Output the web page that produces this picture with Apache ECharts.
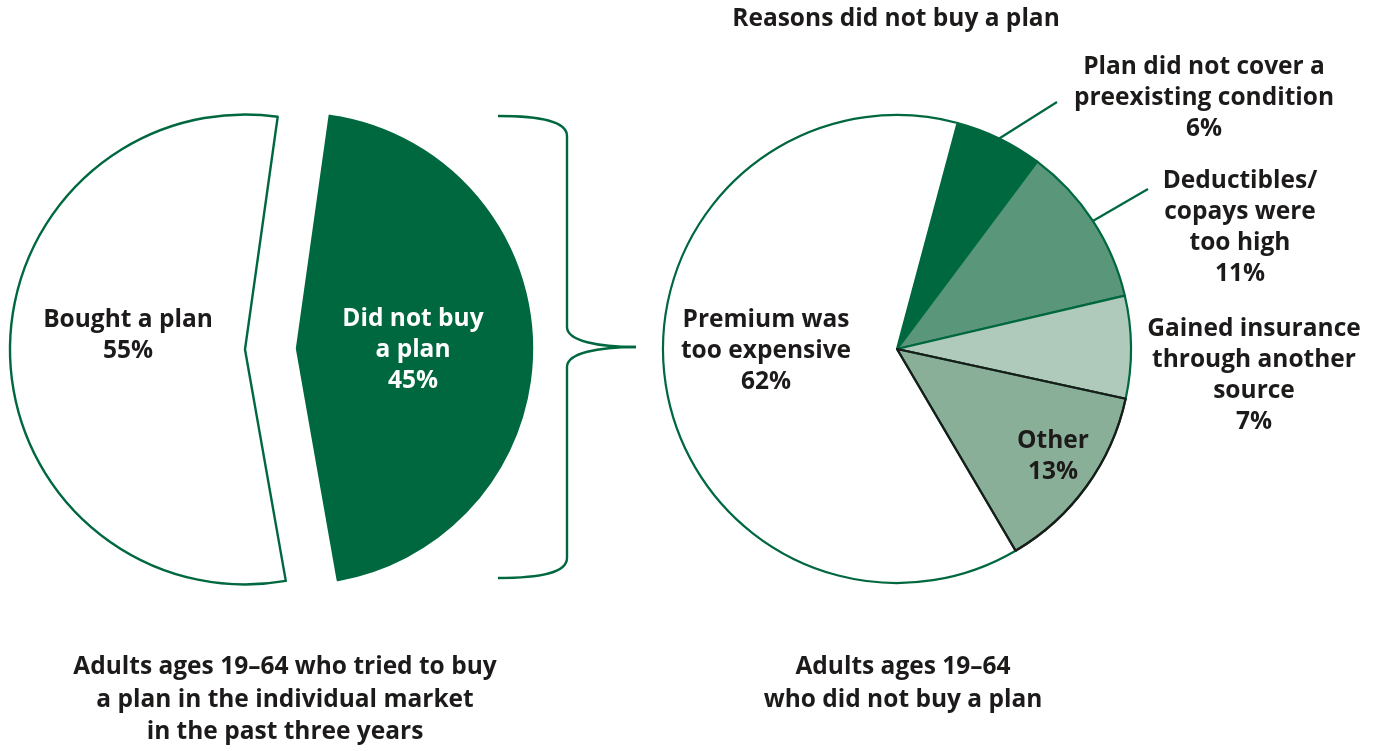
<!DOCTYPE html>
<html>
<head>
<meta charset="utf-8">
<title>Individual market plan purchases</title>
<script src="https://cdn.jsdelivr.net/npm/echarts@6/dist/echarts.min.js"></script>
<style>
  html, body { margin: 0; padding: 0; background: #ffffff; }
  #chart { width: 1381px; height: 751px; }
</style>
</head>
<body>
<div id="chart"></div>
<script>
// Share of adults who tried to buy an individual-market plan
const buyCategories = ['Did not buy\na plan', 'Bought a plan'];
const buyValues = [45, 55];

// Reasons given by adults who did not buy a plan
const reasonCategories = [
  'Plan did not cover a\npreexisting condition',
  'Deductibles/\ncopays were\ntoo high',
  'Gained insurance\nthrough another\nsource',
  'Other',
  'Premium was\ntoo expensive'
];
const reasonValues = [6, 11, 7, 13, 62];

const titleText = 'Reasons did not buy a plan';
const leftCaption = 'Adults ages 19\u201364 who tried to buy\na plan in the individual market\nin the past three years';
const rightCaption = 'Adults ages 19\u201364\nwho did not buy a plan';

const GREEN = '#00683f';
const INK = '#1d1a1a';
const FONT = '"Open Sans", Lato, sans-serif';
const FS = 24.5;
const LH = 31;

const buyFills = [GREEN, '#ffffff'];
const buyTextColors = ['#ffffff', INK];
const reasonFills = [GREEN, '#5a9679', '#afc9ba', '#8aaf99', '#ffffff'];

// left pie geometry: both slices pulled apart along their bisectors
const BUY_CENTER = [271, 349];
const BUY_RADIUS = 235;
const BUY_START = 82;
const BUY_EXPLODE = 26;

// label anchor spots (block centres) and optional leader-line ends relative to them
const buyLabelSpots = [
  { x: 413, y: 350 },
  { x: 128, y: 336 }
];
const reasonLabelSpots = [
  { x: 1204, y: 98, lineTo: [-147, 4] },
  { x: 1240, y: 228, lineTo: [-92, -39] },
  { x: 1254, y: 376 },
  { x: 1053, y: 457 },
  { x: 766, y: 351 }
];

const chart = echarts.init(document.getElementById('chart'), null, { renderer: 'canvas' });

const textBase = {
  fontFamily: FONT,
  fontWeight: 'bold',
  fontSize: FS,
  lineHeight: LH,
  color: INK
};

// brace linking the "did not buy" slice to the breakdown pie
const braceStyle = { stroke: GREEN, lineWidth: 2.4, fill: 'none' };
const brace = [
  { type: 'bezierCurve', shape: { x1: 498, y1: 116, cpx1: 540, cpy1: 116, cpx2: 567, cpy2: 121, x2: 567, y2: 136 } },
  { type: 'line', shape: { x1: 567, y1: 136, x2: 567, y2: 327 } },
  { type: 'bezierCurve', shape: { x1: 567, y1: 327, cpx1: 567, cpy1: 341, cpx2: 598, cpy2: 347, x2: 636, y2: 347 } },
  { type: 'bezierCurve', shape: { x1: 636, y1: 347, cpx1: 598, cpy1: 347, cpx2: 567, cpy2: 353, x2: 567, y2: 367 } },
  { type: 'line', shape: { x1: 567, y1: 367, x2: 567, y2: 558 } },
  { type: 'bezierCurve', shape: { x1: 567, y1: 558, cpx1: 567, cpy1: 573, cpx2: 540, cpy2: 578, x2: 498, y2: 578 } }
].map(function (el) {
  el.silent = true;
  el.style = Object.assign({}, braceStyle);
  return el;
});

// one pie series per slice of the left chart, each shifted outwards along its bisector
const buyTotal = buyValues.reduce(function (a, b) { return a + b; }, 0);
let buyCum = 0;
const buySeries = buyValues.map(function (v, k) {
  const mid = (BUY_START - (buyCum + v / 2) / buyTotal * 360) * Math.PI / 180;
  buyCum += v;
  const center = [
    BUY_CENTER[0] + BUY_EXPLODE * Math.cos(mid),
    BUY_CENTER[1] - BUY_EXPLODE * Math.sin(mid)
  ];
  return {
    type: 'pie',
    center: center,
    radius: BUY_RADIUS,
    startAngle: BUY_START,
    clockwise: true,
    avoidLabelOverlap: false,
    silent: true,
    emphasis: { disabled: true },
    labelLine: { show: false },
    labelLayout: function (p) {
      const s = buyLabelSpots[p.dataIndex];
      return { x: s.x, y: s.y, align: 'center', verticalAlign: 'middle' };
    },
    data: buyCategories.map(function (name, i) {
      const own = i === k;
      return {
        name: name,
        value: buyValues[i],
        itemStyle: own
          ? { color: buyFills[i], borderColor: GREEN, borderWidth: 2.4 }
          : { color: 'rgba(0,0,0,0)', borderWidth: 0 },
        label: own
          ? Object.assign({ show: true, position: 'inside', formatter: '{b}\n{c}%', align: 'center' },
              textBase, { color: buyTextColors[i] })
          : { show: false }
      };
    })
  };
});

const option = {
  animation: false,
  backgroundColor: '#ffffff',
  title: [
    {
      text: titleText,
      left: 891, top: -1, textAlign: 'center',
      textStyle: Object.assign({}, textBase)
    },
    {
      text: leftCaption,
      left: 280, top: 646, textAlign: 'center',
      textStyle: Object.assign({}, textBase, { lineHeight: 32.5 })
    },
    {
      text: rightCaption,
      left: 898, top: 646, textAlign: 'center',
      textStyle: Object.assign({}, textBase, { lineHeight: 32.5 })
    }
  ],
  graphic: brace,
  series: buySeries.concat([
    {
      type: 'pie',
      center: [897, 349],
      radius: 234,
      startAngle: 75,
      clockwise: true,
      avoidLabelOverlap: false,
      silent: true,
      emphasis: { disabled: true },
      itemStyle: { borderColor: GREEN, borderWidth: 2.2 },
      label: Object.assign({ show: true, position: 'outside', formatter: '{b}\n{c}%', align: 'center' }, textBase),
      labelLine: { show: true, length: 10, length2: 10, lineStyle: { color: GREEN, width: 2.2 } },
      labelLayout: function (p) {
        const s = reasonLabelSpots[p.dataIndex];
        const out = { x: s.x, y: s.y, align: 'center', verticalAlign: 'middle' };
        if (s.lineTo && p.labelLinePoints) {
          const start = p.labelLinePoints[0];
          const end = [s.x + s.lineTo[0], s.y + s.lineTo[1]];
          out.labelLinePoints = [start, end, end];
        }
        return out;
      },
      data: reasonCategories.map(function (name, i) {
        return {
          name: name,
          value: reasonValues[i],
          itemStyle: { color: reasonFills[i] },
          labelLine: { show: i < 2 }
        };
      })
    },
    {
      // dark outline around the "Other" slice, drawn above its neighbours
      type: 'pie',
      center: [897, 349],
      radius: 234,
      startAngle: 75,
      clockwise: true,
      silent: true,
      z: 3,
      emphasis: { disabled: true },
      label: { show: false },
      labelLine: { show: false },
      data: reasonCategories.map(function (name, i) {
        const isOther = name === 'Other';
        return {
          name: name,
          value: reasonValues[i],
          itemStyle: {
            color: 'rgba(0,0,0,0)',
            borderColor: isOther ? INK : 'rgba(0,0,0,0)',
            borderWidth: isOther ? 2.2 : 0
          }
        };
      })
    }
  ])
};

chart.setOption(option);
</script>
</body>
</html>
